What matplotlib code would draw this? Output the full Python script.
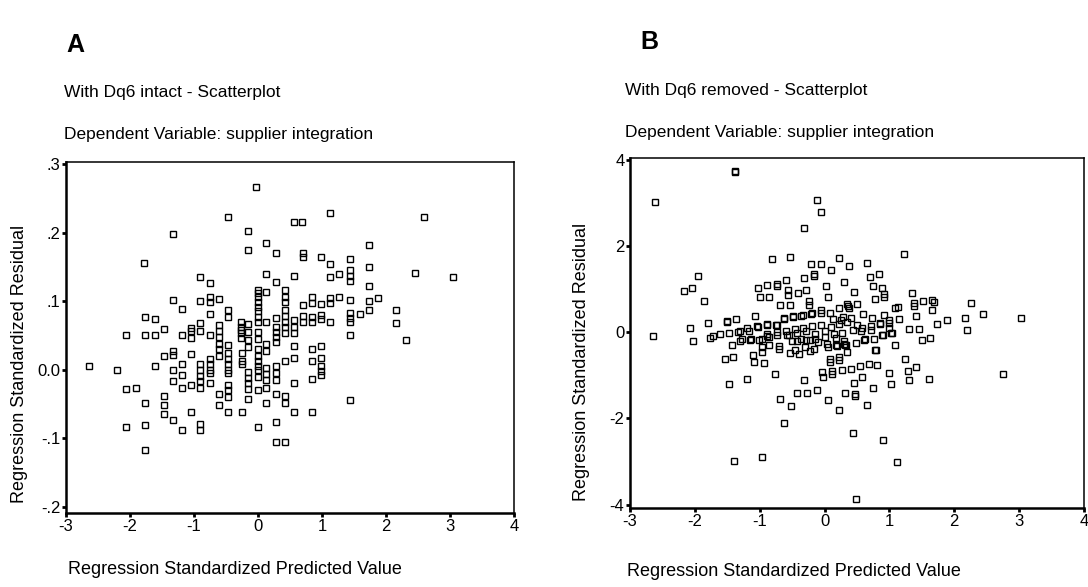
import matplotlib
matplotlib.use("Agg")
import matplotlib.pyplot as plt
import numpy as np

plt.rcParams['font.family'] = ['Liberation Sans', 'DejaVu Sans']

# Panel A: standardized predicted value vs standardized residual (Dq6 intact)
a_x = [
    -0.03, -0.47, 1.13, 2.59, 0.56, 0.69, -1.33, -0.16, -0.16, 0.13, 0.28, 0.70, 0.70, 0.99, 1.13,
    1.44, 1.73, 1.73, -1.78, 2.45, 3.04, 0.56, 0.13, -0.90, -0.75, 0.28, 0.42, 0.42, 0.42, 0.13,
    0.00, 0.00, 1.13, 1.27, 1.44, 1.44, 1.44, 1.73,
    1.73, 1.87, 1.73, 1.59, 2.16, 2.16, 2.31, -1.33, -1.19, -1.76, -1.61, -2.07, -1.76, -1.61,
    -1.47, -1.19, -1.04, -1.04, -1.04, -0.90, -0.90, -0.90, -0.75, -0.75, -0.75, -0.75, -0.61,
    -0.61, -0.61, -0.61, -0.61, -0.47, -0.47, -0.47, -0.27, -0.27, -0.27, -0.27, -0.27, -0.16,
    -0.16, -0.16, 0.00, 0.00, 0.00, 0.00, 0.00, 0.00, 0.00, 0.00, 0.13, 0.13, 0.28, 0.28, 0.28,
    0.28, 0.28, 0.42, 0.42, 0.42, 0.42, 0.42, 0.56, 0.56, 0.56, 0.56, 0.70, 0.70, 0.70, 0.85,
    0.85, 0.85, 0.85, 0.85, 0.99, 0.99, 0.99, 0.99, 1.13, 1.13, 1.13, 1.27, 1.44, 1.44, 1.44,
    1.44, 1.44,
    -2.64, -2.20, -2.07, -1.90, -1.76, -2.07, -1.76, -1.76, -1.61, -1.47, -1.33, -1.33, -1.47,
    -1.47, -1.47, -1.33, -1.33, -1.33, -1.19, -1.19, -1.19, -1.19, -1.04, -1.04, -1.04, -0.90,
    -0.90, -0.90, -0.90, -0.90, -0.90, -0.90, -0.75, -0.75, -0.75, -0.75, -0.75, -0.61, -0.61,
    -0.61, -0.61, -0.47, -0.47, -0.47, -0.47, -0.47, -0.47, -0.47, -0.47, -0.47, -0.25, -0.25,
    -0.25, -0.25, -0.16, -0.16, -0.16, -0.16, -0.16, -0.16, 0.00, 0.00, 0.00, 0.00, 0.00, 0.00,
    0.00, 0.00, 0.13, 0.13, 0.13, 0.13, 0.13, 0.13, 0.28, 0.28, 0.28, 0.28, 0.28, 0.28, 0.42,
    0.42, 0.42, 0.42, 0.56, 0.56, 0.56, 0.85, 0.85, 0.85, 0.99, 0.99, 0.99, 0.99, 1.44,
]
a_y = [
    0.267, 0.223, 0.229, 0.223, 0.215, 0.215, 0.198, 0.202, 0.174, 0.185, 0.170, 0.170, 0.164, 0.164, 0.154,
    0.162, 0.182, 0.150, 0.156, 0.141, 0.135, 0.136, 0.139, 0.135, 0.126, 0.128, 0.117, 0.106, 0.099, 0.114,
    0.117, 0.112, 0.135, 0.139, 0.145, 0.136, 0.130, 0.122,
    0.100, 0.104, 0.087, 0.082, 0.087, 0.068, 0.043, 0.102, 0.088, 0.077, 0.074, 0.051, 0.051, 0.051,
    0.059, 0.051, 0.061, 0.056, 0.047, 0.100, 0.068, 0.056, 0.106, 0.099, 0.082, 0.051, 0.103,
    0.065, 0.057, 0.048, 0.038, 0.087, 0.077, 0.036, 0.069, 0.063, 0.058, 0.053, 0.047, 0.067,
    0.055, 0.043, 0.106, 0.099, 0.092, 0.085, 0.077, 0.070, 0.055, 0.045, 0.069, 0.037, 0.075, 0.062, 0.055,
    0.048, 0.041, 0.087, 0.078, 0.070, 0.062, 0.054, 0.072, 0.063, 0.054, 0.035, 0.095, 0.079, 0.069, 0.106,
    0.097, 0.077, 0.069, 0.030, 0.096, 0.080, 0.074, 0.034, 0.104, 0.097, 0.070, 0.106, 0.101, 0.083, 0.076,
    0.069, 0.051,
    0.005, 0.000, -0.028, -0.027, -0.048, -0.084, -0.080, -0.117, 0.005, 0.020, 0.022, 0.027, -0.038,
    -0.051, -0.065, -0.016, 0.000, -0.073, 0.008, -0.007, -0.026, -0.088, 0.023, -0.022, -0.062, 0.008,
    0.000, -0.009, -0.016, -0.026, -0.079, -0.088, 0.015, 0.008, 0.000, -0.005, -0.019, 0.020, 0.030,
    -0.036, -0.052, 0.025, 0.015, 0.008, 0.000, -0.005, -0.022, -0.030, -0.040, -0.061, -0.061, 0.025,
    0.013, 0.008, 0.033, -0.004, -0.012, -0.020, -0.028, -0.043, 0.030, 0.020, 0.012, 0.006, 0.000, -0.010,
    -0.030, -0.084, 0.028, 0.003, -0.006, -0.015, -0.027, -0.048, 0.005, -0.005, -0.015, -0.035, -0.076, -0.105, 0.013,
    -0.038, -0.048, -0.105, 0.017, -0.019, -0.062, 0.013, -0.014, -0.062, 0.017, 0.005, -0.002, -0.008, -0.044,
]

# Panel B: same plot with Dq6 removed
b_x = [
    -2.62, -1.38, -1.38, -0.11, -0.06, -0.31, 1.23, -0.81, -0.53, -0.21, -0.06, 0.23, 0.38, 0.66, 0.10,
    -1.95, -2.17, -2.05, -1.86, 0.70, 0.84, -0.31, -0.17, -0.17, -0.59, -0.74, -0.74, -1.02, -0.89, 0.02,
    0.30, 0.75, 0.89, 0.92, 0.92, -0.56, -0.41, -0.28, -0.56, -0.99, -0.85, 0.05, 0.46, 0.78, 1.35,
    -0.68, -0.53, -0.24, -0.24, -0.06, -0.06, 0.09, 0.23, 0.35, 0.36, 0.37, 0.50, 1.09, 1.13, 1.38,
    1.38, 1.51, 1.66, 1.68, 1.66, 2.26, 2.44, 3.03, 2.16, 2.19, 1.88, 1.73, 1.41, 1.14, 1.00, 1.00,
    1.30, 1.45, -1.08, -1.51, -1.51, -1.36, -1.79, -2.08, -2.64, -2.03,
    -1.76, -1.72, -1.62, -1.47, -1.34, -1.31, -1.19, -1.17, -1.04, -1.03, -0.89, -0.88, -0.88, -0.88,
    -0.75, -0.74, -0.74, -0.62, -0.62, -0.49, -0.48, -0.37, -0.33, -0.21, -0.19, 0.25, 0.41, 0.56,
    0.71, 0.85, 1.00, 0.44, 0.58, 0.72, 0.86, 1.04, 0.90, 0.76, 0.62, 0.48, 0.33, 1.63, 1.50, 1.08, 0.80,
    -0.60, -0.46, -0.33, -0.19, -0.05, 0.10, 0.22, 0.34, -0.55, -0.42, -0.28, -0.14, 0.00, 0.14, 0.27,
    -0.50, -0.37, -0.23, -0.10, 0.04, 0.18, 0.30, -0.45, -0.30, -0.16, 0.05, 0.17, 0.30, 0.35,
    -1.43, -1.30, -1.15, -1.01, -0.86, -0.74, -0.58, -0.43, -0.28, -0.14, 0.01,
    -1.54, -1.41, -1.11, -1.09, -0.97, -0.97, -0.85, -0.70, -0.70, -0.93, -0.53, -0.39, -0.23,
    0.19, 0.32, 0.08, 0.08, 0.22, 0.22, 0.61, 0.78, 0.89, 1.03,
    0.54, 0.68, 0.81, -0.04, -0.02, 0.12, 0.12, 0.27, 0.41, -0.76, -1.19, -1.47, -0.31, 1.00, 1.03,
    1.24, 1.29, 1.30, 1.41, 1.61, 2.75, 0.45, 0.57, 0.75, -0.42, -0.27, -0.12, 0.32, 0.47, 0.47,
    -0.68, -0.52, 0.05, 0.22, 0.65, -0.63, 0.44, 0.90, -1.40, -0.96, 1.11, 0.49,
    0.13, 0.28, 0.60, 0.73, 0.92, 0.50, -1.27, -1.13, -0.97,
]
b_y = [
    3.03, 3.75, 3.72, 3.07, 2.80, 2.43, 1.81, 1.71, 1.75, 1.59, 1.59, 1.72, 1.53, 1.61, 1.45,
    1.31, 0.95, 1.03, 0.73, 1.28, 1.35, 1.27, 1.31, 1.35, 1.22, 1.12, 1.08, 1.04, 1.10, 1.08,
    1.18, 1.07, 1.03, 0.88, 0.81, 0.99, 0.91, 0.99, 0.87, 0.82, 0.82, 0.83, 0.93, 0.77, 0.91,
    0.63, 0.63, 0.72, 0.64, 0.53, 0.46, 0.45, 0.56, 0.66, 0.62, 0.57, 0.66, 0.56, 0.58, 0.69,
    0.61, 0.72, 0.74, 0.70, 0.51, 0.69, 0.43, 0.34, 0.34, 0.06, 0.29, 0.20, 0.39, 0.32, 0.22, 0.29,
    0.08, 0.08, 0.39, 0.27, 0.23, 0.32, 0.22, 0.10, -0.09, -0.19,
    -0.13, -0.09, -0.04, -0.02, 0.00, 0.03, 0.10, 0.02, 0.14, 0.12, 0.20, 0.16, -0.04, -0.08,
    0.18, 0.16, 0.00, 0.33, 0.31, 0.39, 0.36, 0.39, 0.40, 0.42, 0.45, 0.29, 0.33, 0.04,
    0.06, 0.22, 0.10, 0.06, 0.09, 0.15, 0.19, -0.01, -0.05, -0.15, -0.16, -0.24, -0.30, -0.12, -0.18, -0.29, -0.40,
    0.04, 0.08, 0.10, 0.15, 0.18, 0.12, 0.20, 0.23, -0.05, -0.02, 0.02, -0.03, 0.02, -0.04, -0.02,
    -0.20, -0.15, -0.18, -0.22, -0.26, -0.12, -0.19, -0.40, -0.33, -0.38, -0.33, -0.29, -0.27, -0.45,
    -0.29, -0.21, -0.17, -0.17, -0.11, -0.06, -0.06, -0.21, -0.17, -0.16, -0.10,
    -0.61, -0.57, -0.53, -0.69, -0.35, -0.45, -0.29, -0.32, -0.38, -0.71, -0.49, -0.51, -0.43,
    -0.32, -0.30, -0.61, -0.69, -0.57, -0.65, -0.17, -0.41, -0.06, -0.02,
    -0.79, -0.73, -0.75, -0.93, -1.03, -0.90, -0.97, -0.87, -0.85, -0.97, -1.09, -1.19, -1.11, -0.95, -1.19,
    -0.61, -0.89, -1.11, -0.81, -1.09, -0.97, -1.17, -1.03, -1.30, -1.40, -1.40, -1.34, -1.40, -1.43, -1.48,
    -1.55, -1.70, -1.57, -1.80, -1.68, -2.11, -2.33, -2.49, -2.99, -2.89, -3.02, -3.87,
    0.30, 0.35, 0.42, 0.33, 0.40, 0.18, -0.16, -0.16, -0.16,
]

a_yticks = [-0.2, -0.1, 0.0, 0.1, 0.2, 0.3]
a_yticklabels = ['-.2', '-.1', '0.0', '.1', '.2', '.3']
b_yticks = [-4, -2, 0, 2, 4]
b_yticklabels = ['-4', '-2', '0', '2', '4']
xticks = [-3, -2, -1, 0, 1, 2, 3, 4]

W, H = 1088, 587
fig = plt.figure(figsize=(W / 100, H / 100), dpi=100)


def px_box(left, top, right, bottom):
    return [left / W, 1 - bottom / H, (right - left) / W, (bottom - top) / H]


def style_axes(ax):
    for side in ['top', 'right']:
        ax.spines[side].set_linewidth(1.1)
    for side in ['left', 'bottom']:
        ax.spines[side].set_linewidth(1.8)
    ax.tick_params(direction='out', length=3, width=2, labelsize=12, pad=1)
    ax.set_xticks(xticks)
    ax.set_xticklabels([str(t) for t in xticks])


axA = fig.add_axes(px_box(66, 162, 514, 513))
axA.plot(a_x, a_y, linestyle='none', marker='s', markersize=4.2,
         markerfacecolor='none', markeredgecolor='black', markeredgewidth=1.0)
axA.set_xlim(-3, 4)
axA.set_ylim(-0.209, 0.303)
axA.set_yticks(a_yticks)
axA.set_yticklabels(a_yticklabels)
style_axes(axA)

axB = fig.add_axes(px_box(630, 158, 1084, 508))
axB.plot(b_x, b_y, linestyle='none', marker='s', markersize=4.2,
         markerfacecolor='none', markeredgecolor='black', markeredgewidth=1.0)
axB.set_xlim(-3, 4)
axB.set_ylim(-4.08, 4.05)
axB.set_yticks(b_yticks)
axB.set_yticklabels(b_yticklabels)
style_axes(axB)


def ftext(x, y, s, **kw):
    fig.text(x / W, 1 - y / H, s, **kw)


ftext(66, 45, 'A', fontsize=18, fontweight='bold', va='center', ha='left')
ftext(640, 42, 'B', fontsize=18, fontweight='bold', va='center', ha='left')
ftext(64, 93, 'With Dq6 intact - Scatterplot', fontsize=12.5, va='center', ha='left')
ftext(64, 134, 'Dependent Variable: supplier integration', fontsize=12.5, va='center', ha='left')
ftext(625, 91, 'With Dq6 removed - Scatterplot', fontsize=12.5, va='center', ha='left')
ftext(625, 132, 'Dependent Variable: supplier integration', fontsize=12.5, va='center', ha='left')
ftext(68, 570, 'Regression Standardized Predicted Value', fontsize=13, va='center', ha='left')
ftext(627, 572, 'Regression Standardized Predicted Value', fontsize=13, va='center', ha='left')
ftext(20, 364, 'Regression Standardized Residual', fontsize=13, va='center', ha='center', rotation=90)
ftext(582, 362, 'Regression Standardized Residual', fontsize=13, va='center', ha='center', rotation=90)

fig.savefig('out.png', dpi=100, facecolor='white')
